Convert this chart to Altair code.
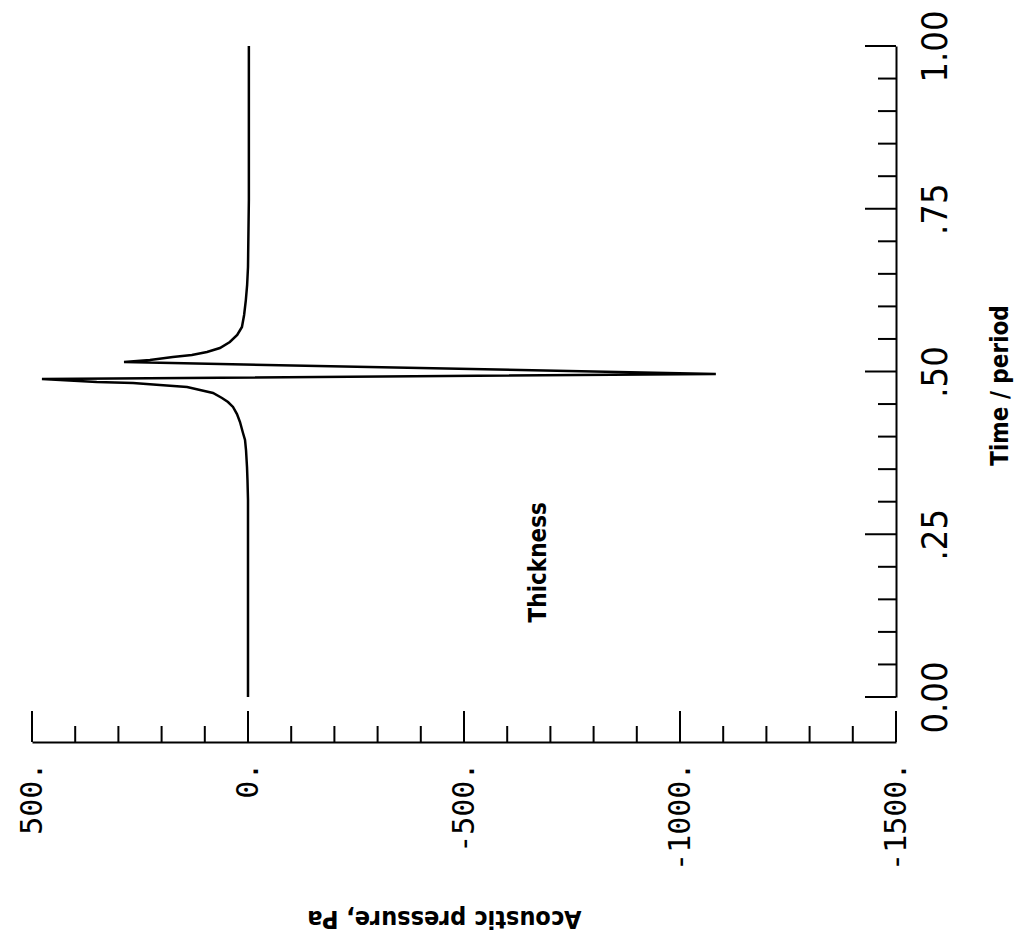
import altair as alt
import pandas as pd

# ---- data ----
# curve: acoustic pressure (Pa) vs time/period, in drawing order
TIME = [0.000, 0.100, 0.200, 0.3026, 0.3333, 0.3533, 0.3794, 0.3948, 0.4055, 0.4224,
        0.4347, 0.4455, 0.4531, 0.4593, 0.4670, 0.4716, 0.4762, 0.4793, 0.4823, 0.4839,
        0.4885, 0.4962, 0.5146, 0.5177, 0.5223, 0.5253, 0.5300, 0.5361, 0.5453, 0.5561,
        0.5684, 0.5868, 0.6098, 0.6329, 0.6605, 0.7634, 0.880, 1.000]
PRESSURE = [0, 0, 0, 0, 1.2, 2.3, 4.6, 6.9, 11.6, 18.5,
            25.5, 34.7, 46.3, 60.2, 81, 111, 141, 204, 266, 350,
            477, -1083, 287, 227, 174, 130, 95, 65, 42, 25,
            14, 9, 5, 2, 0, -2, -2, -2]

PRESSURE_TICKS = [500, 0, -500, -1000, -1500]
PRESSURE_LABELS = ["500.", "0.", "-500.", "-1000.", "-1500."]
PRESSURE_MINOR = [400, 300, 200, 100, -100, -200, -300, -400, -600, -700, -800, -900,
                  -1100, -1200, -1300, -1400]
TIME_TICKS = [0.0, 0.25, 0.5, 0.75, 1.0]
TIME_LABELS = ["0.00", ".25", ".50", ".75", "1.00"]
TIME_MINOR = [0.05, 0.10, 0.15, 0.20, 0.30, 0.35, 0.40, 0.45, 0.55, 0.60, 0.65, 0.70,
              0.80, 0.85, 0.90, 0.95]

ANNOT_TEXT = ["Thickness"]
ANNOT_P = [-674]
ANNOT_T = [0.207]

X_TITLE = "Acoustic pressure, Pa"
Y_TITLE = "Time / period"

# ---- tables ----
curve = pd.DataFrame({"i": range(len(TIME)), "t": TIME, "p": PRESSURE})
p_major = pd.DataFrame({"p": PRESSURE_TICKS})
p_minor = pd.DataFrame({"p": PRESSURE_MINOR})
t_major = pd.DataFrame({"t": TIME_TICKS})
t_minor = pd.DataFrame({"t": TIME_MINOR})
annot = pd.DataFrame({"label": ANNOT_TEXT, "p": ANNOT_P, "t": ANNOT_T})


def label_expr(vals, labels):
    expr = "''"
    for v, l in reversed(list(zip(vals, labels))):
        expr = f"(datum.value == {v} ? '{l}' : {expr})"
    return expr


NARROW = "Liberation Sans Narrow, DejaVu Sans Condensed, sans-serif"
MONO = "DejaVu Sans Mono, Liberation Mono, monospace"

W, H = 864, 651
P_OFFSET = 45

x_scale = alt.Scale(domain=[-1500, 500], reverse=True, nice=False, zero=False)
y_scale = alt.Scale(domain=[0, 1], nice=False, zero=False)

x_axis = alt.Axis(
    orient="bottom", offset=P_OFFSET, values=PRESSURE_TICKS,
    labelExpr=label_expr(PRESSURE_TICKS, PRESSURE_LABELS),
    ticks=False, tickSize=0, grid=False,
    domainColor="black", domainWidth=2,
    labelAngle=270, labelAlign="right", labelBaseline="middle",
    labelPadding=20, labelFont=MONO, labelFontSize=30, labelColor="black",
    labelFlush=False, labelOverlap=False, labelBound=False,
    title=X_TITLE, titleAngle=180, titleFont=NARROW, titleFontSize=25,
    titleFontWeight="bold", titleColor="black", titleAlign="center",
    titleBaseline="middle", titleX=412, titleY=176,
)
y_axis = alt.Axis(
    orient="right", offset=0, values=TIME_TICKS,
    labelExpr=label_expr(TIME_TICKS, TIME_LABELS),
    ticks=False, tickSize=0, grid=False,
    domainColor="black", domainWidth=2,
    labelAngle=270, labelAlign="center", labelBaseline="top",
    labelPadding=22, labelFont=NARROW, labelFontSize=36, labelColor="black",
    labelFlush=False, labelOverlap=False, labelBound=False,
    title=Y_TITLE, titleAngle=270, titleFont=NARROW, titleFontSize=24,
    titleFontWeight="bold", titleColor="black", titleAlign="center",
    titleBaseline="middle", titleX=104, titleY=339,
)

X = alt.X("p:Q", scale=x_scale, axis=x_axis)
Y = alt.Y("t:Q", scale=y_scale, axis=y_axis)

line = alt.Chart(curve).mark_line(color="black", strokeWidth=2.5).encode(
    x=X, y=Y, order="i:Q"
)

p_major_ticks = alt.Chart(p_major).mark_rule(color="black", strokeWidth=2).encode(
    x=X, y=alt.value(H + P_OFFSET), y2=alt.value(H + P_OFFSET - 31)
)
p_minor_ticks = alt.Chart(p_minor).mark_rule(color="black", strokeWidth=2).encode(
    x=X, y=alt.value(H + P_OFFSET), y2=alt.value(H + P_OFFSET - 16)
)
t_major_ticks = alt.Chart(t_major).mark_rule(color="black", strokeWidth=2).encode(
    y=Y, x=alt.value(W), x2=alt.value(W - 31)
)
t_minor_ticks = alt.Chart(t_minor).mark_rule(color="black", strokeWidth=2).encode(
    y=Y, x=alt.value(W), x2=alt.value(W - 18)
)

text = alt.Chart(annot).mark_text(
    angle=270, font=NARROW, fontSize=24, fontWeight="bold", color="black",
    align="center", baseline="middle"
).encode(x=X, y=Y, text="label:N")

chart = alt.layer(
    line, p_major_ticks, p_minor_ticks, t_major_ticks, t_minor_ticks, text
).properties(
    width=W, height=H,
    padding={"left": 32, "top": 46, "right": 1018 - 32 - W, "bottom": 944 - 46 - H},
    autosize=alt.AutoSizeParams(type="none"),
    background="white",
).configure_view(stroke=None)

chart.save("out.html", embed_options={"renderer": "svg", "actions": False})
